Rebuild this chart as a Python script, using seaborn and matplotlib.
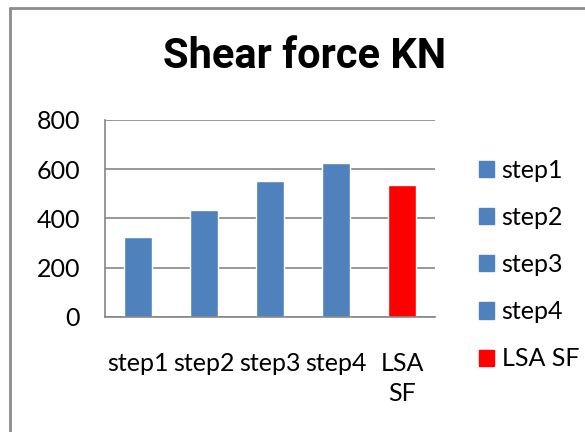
import matplotlib
matplotlib.use("Agg")
import matplotlib.pyplot as plt
import matplotlib.lines as mlines
import matplotlib.patches as mpatches
import seaborn as sns
import pandas as pd

# dados
categorias = ["step1", "step2", "step3", "step4", "LSA SF"]
rotulos_x = ["step1", "step2", "step3", "step4", "LSA\nSF"]
valores = [325, 436, 551, 626, 535]
cores = ["#4F81BD", "#4F81BD", "#4F81BD", "#4F81BD", "#FF0000"]
y_ticks = [0, 200, 400, 600, 800]

df = pd.DataFrame({"cat": categorias, "val": valores})

sns.set_style("white")
plt.rcParams["font.family"] = ["Lato", "DejaVu Sans"]
plt.rcParams["text.color"] = "black"
plt.rcParams["xtick.color"] = "black"
plt.rcParams["ytick.color"] = "black"

fig = plt.figure(figsize=(5.85, 4.32), dpi=100)
ax = fig.add_axes([105 / 585, 1 - 317 / 432, 330 / 585, 197 / 432])

sns.barplot(data=df, x="cat", y="val", hue="cat", palette=cores,
            width=0.41, legend=False, ax=ax, saturation=1)

ax.set_ylim(0, 800)
ax.set_xlim(-0.5, 4.5)
ax.set_yticks(y_ticks)
ax.set_yticklabels([str(v) for v in y_ticks], fontsize=18)
ax.set_xticks(range(len(categorias)))
ax.set_xticklabels(rotulos_x, fontsize=18, linespacing=1.4)
ax.set_xlabel("")
ax.set_ylabel("")

# grade e eixos no estilo Excel
ax.yaxis.grid(True, color="#868686", linewidth=1.2)
ax.set_axisbelow(True)
for s in ["top", "right"]:
    ax.spines[s].set_visible(False)
for s in ["left", "bottom"]:
    ax.spines[s].set_color("#868686")
    ax.spines[s].set_linewidth(1.2)
ax.tick_params(axis="y", length=6, color="#868686", width=1.2, pad=12)
ax.tick_params(axis="x", length=0, pad=25)
ax.set_xticks([i - 0.5 for i in range(len(categorias) + 1)], minor=True)
ax.tick_params(axis="x", which="minor", length=6, color="#868686", width=1.2)

# legenda
handles = [mpatches.Patch(color=c, label=l) for c, l in zip(cores, categorias)]
fig.legend(handles=handles, loc="upper left", bbox_to_anchor=(456 / 585, 1 - 136 / 432),
           frameon=False, handlelength=0.62, handleheight=0.62, handletextpad=0.3,
           labelspacing=0.97, prop={"size": 18})

fig.text(0.52, 1 - 57 / 432, "Shear force KN", ha="center", va="center",
         fontsize=30, fontweight="bold", family="Roboto")

# borda do grafico
fig.add_artist(mlines.Line2D([10 / 585, 10 / 585], [0, 1 - 8 / 432], color="#8c8c8c", lw=2))
fig.add_artist(mlines.Line2D([10 / 585, 1], [1 - 8 / 432, 1 - 8 / 432], color="#8c8c8c", lw=2))

fig.savefig("out.png", dpi=100)
